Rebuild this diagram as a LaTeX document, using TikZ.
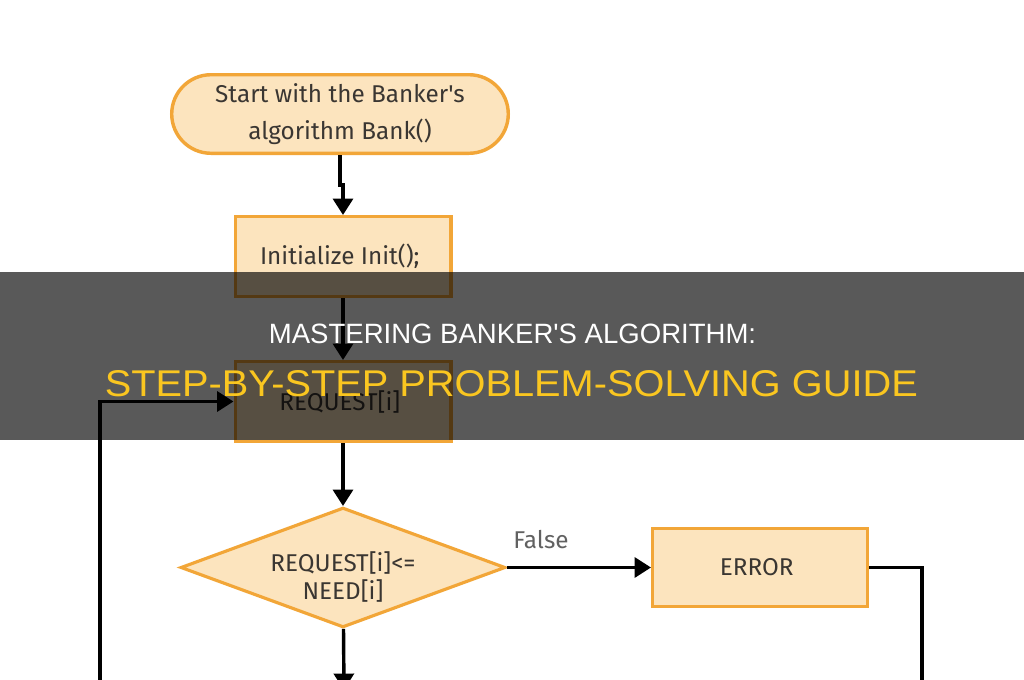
\documentclass[tikz,border=0pt]{standalone}
\usepackage{graphicx}
\usepackage{fontspec}
\newfontfamily\chartfont{Fira Sans}
\newfontfamily\titlefont{Liberation Sans}
\usetikzlibrary{shapes,arrows.meta,positioning}

\definecolor{boxborder}{RGB}{242,166,56}
\definecolor{boxfill}{RGB}{252,228,190}
\definecolor{boxtext}{RGB}{58,54,50}
\definecolor{titlegold}{RGB}{250,198,32}

\begin{document}
\begin{tikzpicture}[
    x=0.7pt, y=-0.7pt,
    node distance=42pt,
    terminal/.style={
        rectangle,
        draw=boxborder,
        fill=boxfill,
        line width=2.4pt,
        minimum width=235.6pt,
        minimum height=55pt,
        rounded corners=27.5pt,
        align=center,
        text=boxtext,
        font=\chartfont\fontsize{17}{25.5}\selectfont
    },
    process/.style={
        rectangle,
        draw=boxborder,
        fill=boxfill,
        line width=2.4pt,
        minimum width=150.9pt,
        minimum height=55.7pt,
        align=center,
        text=boxtext,
        font=\chartfont\fontsize{17}{20}\selectfont
    },
    decision/.style={
        diamond,
        aspect=2.67,
        inner sep=0pt,
        draw=boxborder,
        fill=boxfill,
        line width=2.2pt,
        minimum width=227.4pt,
        minimum height=83.9pt,
        text=boxtext,
        font=\chartfont\fontsize{17}{18}\selectfont
    },
    arrow/.style={
        -{Triangle[width=14pt,length=11.5pt]},
        line width=2.4pt,
        black
    },
    line/.style={
        line width=2.4pt,
        black
    },
    label/.style={
        font=\chartfont\fontsize{17}{20}\selectfont,
        text=black!62
    }
]

% Canvas
\clip (0,0) rectangle (1024,680);
\fill[white] (0,0) rectangle (1024,680);

% Start
\node[terminal] (start) at (340,114) {
    Start with the Banker's\\
    algorithm Bank()
};

% Init
\node[process, below=42pt of start, xshift=2.1pt] (init) {
    Initialize Init();
};

% Request
\node[process, below=43.4pt of init] (request) {
    REQUEST[i]
};

% Check
\node[decision, below=44.1pt of request] (check) {%
    \raisebox{-12.7pt}[0pt][0pt]{\begin{tabular}{@{}c@{}}REQUEST[i]<=\\NEED[i]\end{tabular}}%
};

% Error
\node[process, right=100.8pt of check, minimum height=54.3pt, minimum width=150.2pt] (error) {
    ERROR
};

% Free ends below the picture
\coordinate (nextstep) at (344,690);
\coordinate (loopfoot) at (100,700);
\coordinate (errorfoot) at (922,700);

% Arrows
\draw[arrow] (start.south) -- ++(0,30) -| (init);
\draw[arrow] (init) -- (request);
\draw[arrow] (request) -- (check);
\draw[arrow] (check) -- node[label, pos=0, anchor=base west, yshift=13pt] {False} (error);
\draw[arrow] (check) -- (nextstep);
\draw[line] (error.east) -| (errorfoot);
\draw[arrow] (loopfoot) |- (request.west);

% Title banner
\fill[black, opacity=0.65] (0,272) rectangle (1024,440);
\node[font=\titlefont, text=white, anchor=base, inner sep=0pt] (headline) at (512.5,343) {
    \resizebox{341pt}{13.65pt}{MASTERING BANKER'S ALGORITHM:}
};
\node[font=\titlefont, text=titlegold, anchor=base, inner sep=0pt] (subline) at (511.3,396) {
    \resizebox{569pt}{18.2pt}{STEP-BY-STEP PROBLEM-SOLVING GUIDE}
};

\end{tikzpicture}
\end{document}
